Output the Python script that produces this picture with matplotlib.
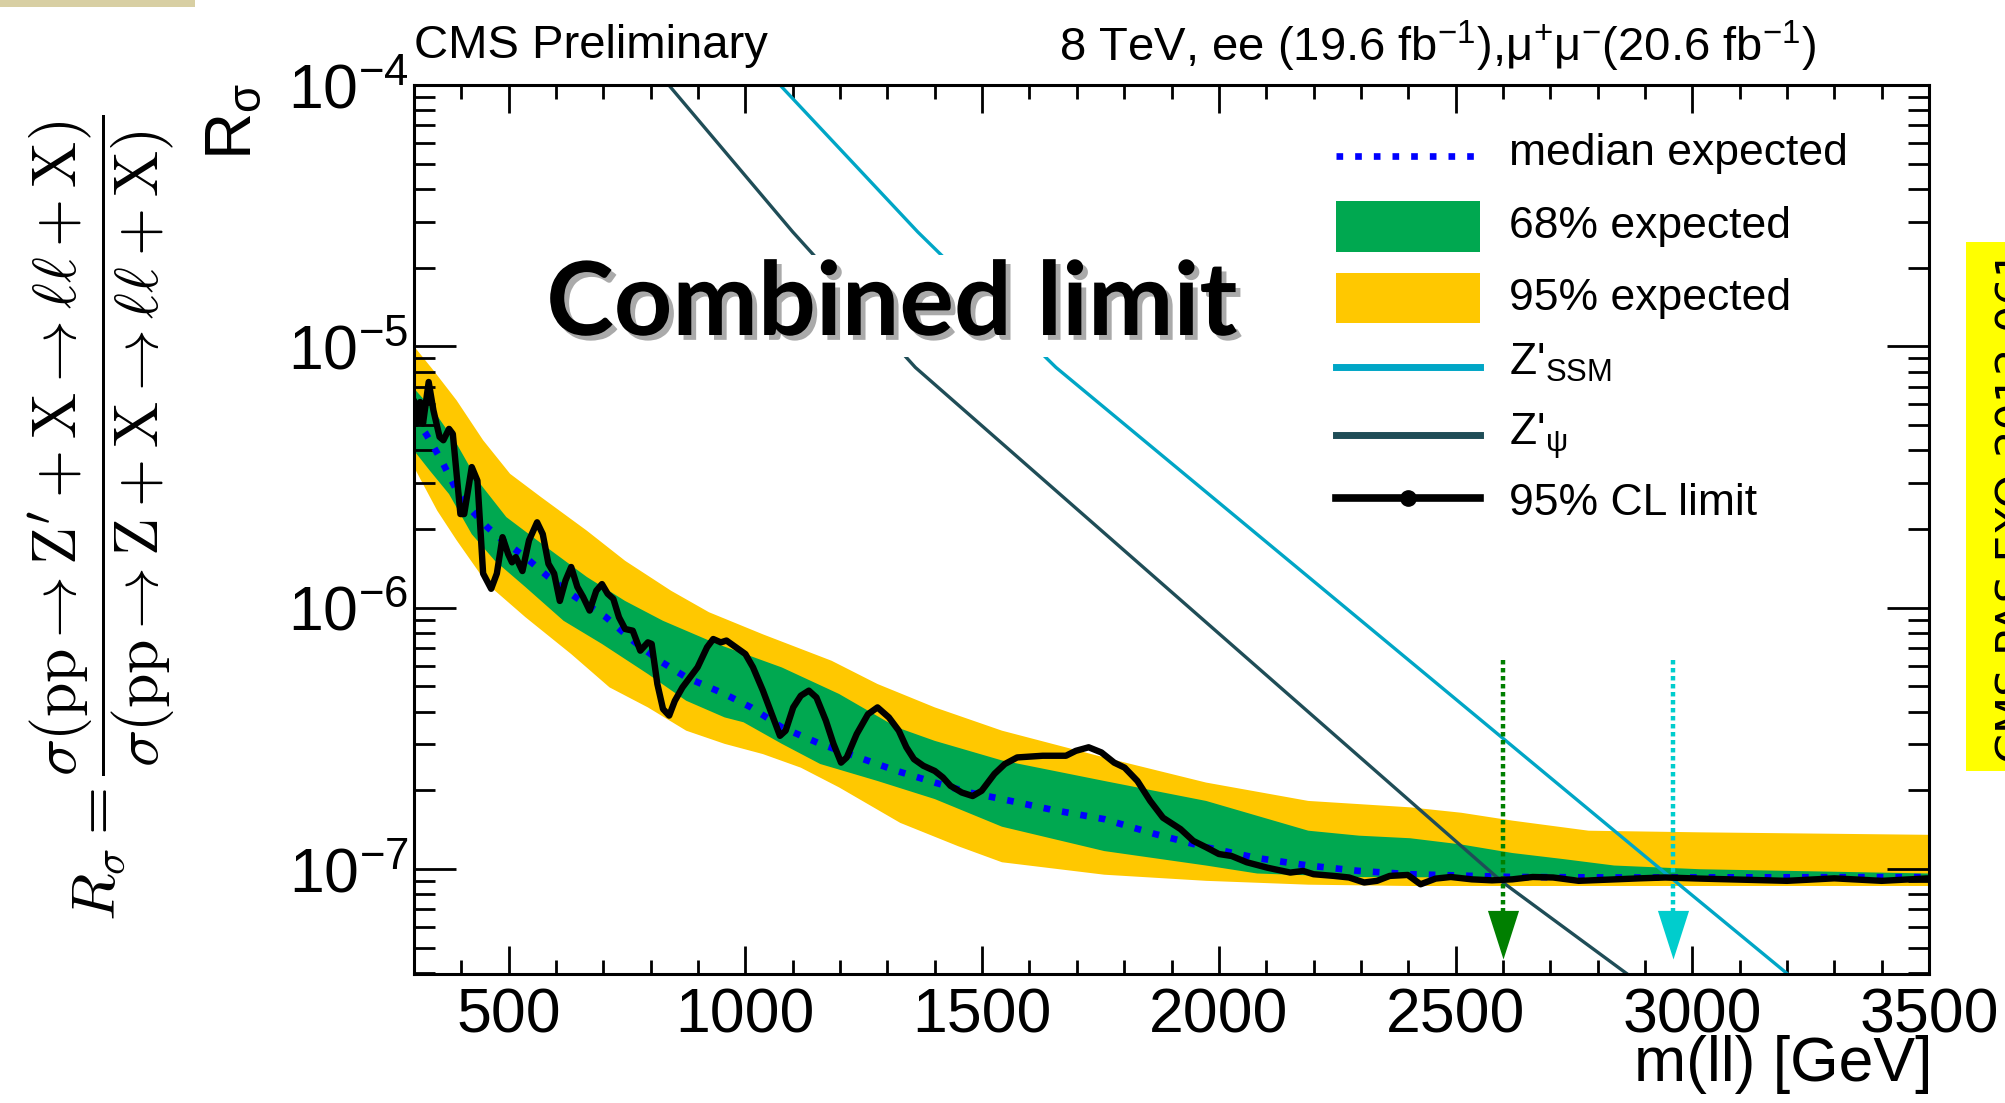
import numpy as np
import matplotlib
matplotlib.use("Agg")
import matplotlib.pyplot as plt
from matplotlib.patches import Rectangle
from matplotlib.lines import Line2D
from matplotlib.path import Path
from matplotlib.ticker import FixedLocator, LogLocator, MultipleLocator, NullFormatter
import matplotlib.patheffects as pe

plt.rcParams['font.family'] = ['Liberation Sans', 'DejaVu Sans']

# ---------------- data ----------------
x_ticks = [500, 1000, 1500, 2000, 2500, 3000, 3500]
x_tick_labels = ['500', '1000', '1500', '2000', '2500', '3000', '3500']
y_ticks = [1e-7, 1e-6, 1e-5, 1e-4]
y_tick_labels = [r'10$^{\mathregular{-7}}$', r'10$^{\mathregular{-6}}$',
                 r'10$^{\mathregular{-5}}$', r'10$^{\mathregular{-4}}$']

# observed 95% CL limit (values in units of 1e-7)
obs_mass = [300, 305, 313, 319, 331, 341, 354, 362, 374, 382, 398, 406, 422, 434, 446,
            463, 475, 487, 499, 507, 515, 529, 543, 560, 572, 584, 596, 608, 620, 632,
            645, 657, 671, 685, 697, 709, 721, 733, 746, 762, 778, 794, 802, 814, 826,
            839, 851, 867, 883, 899, 919, 932, 948, 960, 980, 1000, 1016, 1037, 1053,
            1073, 1085, 1101, 1117, 1134, 1150, 1170, 1186, 1202, 1214, 1235, 1259,
            1279, 1303, 1324, 1340, 1356, 1376, 1400, 1417, 1433, 1457, 1480, 1499,
            1526, 1548, 1574, 1628, 1677, 1698, 1725, 1752, 1779, 1801, 1828, 1855,
            1882, 1919, 1946, 1973, 2000, 2027, 2059, 2103, 2151, 2178, 2200, 2243,
            2275, 2307, 2334, 2361, 2399, 2426, 2458, 2490, 2534, 2577, 2620, 2663,
            2706, 2760, 2835, 2889, 2943, 3016, 3100, 3200, 3300, 3400, 3500]
obs_limit = np.array([62, 50.6, 61.2, 50.6, 73.0, 56.9, 45.0, 43.7, 48.3, 46.2, 22.8, 22.8,
                      34.5, 30.6, 13.5, 11.8, 13.5, 18.6, 16.0, 14.9, 15.6, 13.8, 18.1, 21.2,
                      19.1, 14.7, 13.5, 10.6, 12.7, 14.3, 12.0, 11.0, 9.74, 11.6, 12.3, 11.3,
                      10.8, 9.18, 8.28, 8.16, 6.84, 7.36, 7.26, 5.10, 4.09, 3.86, 4.40, 4.95,
                      5.41, 5.91, 7.05, 7.58, 7.36, 7.48, 7.05, 6.64, 5.91, 4.81, 4.03, 3.23,
                      3.38, 4.15, 4.60, 4.81, 4.53, 3.69, 3.01, 2.55, 2.67, 3.28, 3.91, 4.15,
                      3.80, 3.38, 2.92, 2.63, 2.48, 2.37, 2.24, 2.08, 1.96, 1.90, 1.99, 2.31,
                      2.52, 2.67, 2.71, 2.71, 2.83, 2.92, 2.79, 2.55, 2.44, 2.17, 1.82, 1.57,
                      1.42, 1.28, 1.21, 1.14, 1.12, 1.06, 1.01, 0.968, 0.982, 0.954, 0.940,
                      0.927, 0.887, 0.900, 0.940, 0.948, 0.873, 0.918, 0.931, 0.912, 0.904,
                      0.912, 0.931, 0.927, 0.900, 0.912, 0.920, 0.927, 0.918, 0.91, 0.90,
                      0.92, 0.90, 0.92]) * 1e-7

# median expected
med_mass = [300, 325, 358, 390, 422, 455, 487, 535, 584, 640, 705, 762, 818, 875, 956,
            1012, 1077, 1158, 1239, 1320, 1400, 1473, 1542, 1650, 1758, 1865, 1973, 2081,
            2189, 2296, 2404, 2620, 2835, 3500]
med_val = np.array([53.6, 46.3, 36.6, 28.1, 23.5, 20.3, 18.1, 15.6, 13.1, 11.0, 9.2, 7.48,
                    6.27, 5.41, 4.67, 4.15, 3.48, 3.01, 2.67, 2.37, 2.14, 1.96, 1.85, 1.68,
                    1.55, 1.36, 1.21, 1.10, 1.03, 0.982, 0.954, 0.931, 0.927, 0.93]) * 1e-7

# 95% expected band
b95_up_mass = [300, 341, 390, 446, 503, 568, 665, 746, 843, 923, 1037, 1182, 1279, 1400,
               1542, 1758, 1973, 2189, 2404, 2512, 2620, 2781, 3016, 3500]
b95_up = np.array([100, 80.9, 62.1, 43.7, 32.5, 26.5, 19.7, 15.1, 11.6, 9.6, 7.9, 6.26,
                   5.1, 4.15, 3.38, 2.67, 2.14, 1.82, 1.72, 1.64, 1.53, 1.40, 1.38,
                   1.35]) * 1e-7
b95_lo_mass = [300, 349, 390, 455, 535, 632, 713, 794, 875, 956, 1037, 1117, 1198, 1327,
               1450, 1542, 1758, 1973, 2189, 2404, 3500]
b95_lo = np.array([34.5, 23.5, 18.1, 12.3, 9.2, 6.64, 4.95, 4.15, 3.38, 3.01, 2.75, 2.44,
                   2.05, 1.5, 1.22, 1.06, 0.95, 0.90, 0.87, 0.86, 0.86]) * 1e-7

# 68% expected band
b68_up_mass = [300, 341, 390, 434, 495, 560, 665, 746, 826, 940, 1077, 1198, 1320, 1400,
               1542, 1758, 1973, 2189, 2296, 2404, 2512, 2620, 2728, 2835, 3016, 3500]
b68_up = np.array([69, 56.9, 42.4, 30.7, 22.2, 18.1, 13.1, 10.6, 8.9, 7.26, 5.9, 4.67,
                   3.48, 3.09, 2.60, 2.17, 1.82, 1.40, 1.34, 1.31, 1.24, 1.15, 1.09, 1.03,
                   0.997, 0.96]) * 1e-7
b68_lo_mass = [300, 333, 374, 422, 471, 535, 616, 697, 794, 875, 956, 996, 1077, 1158,
               1279, 1400, 1542, 1758, 1973, 2081, 2300, 3500]
b68_lo = np.array([39.9, 33.5, 27.2, 19.1, 15.1, 12.0, 8.9, 7.26, 5.57, 4.40, 3.80, 3.64,
                   3.01, 2.52, 2.17, 1.85, 1.45, 1.17, 1.03, 0.96, 0.93, 0.92]) * 1e-7

# theory curves
ssm_mass = [1073, 1364, 1656, 2966, 3200]
ssm_val = [1.0e-4, 2.74e-5, 8.3e-6, 8.9e-8, 3.98e-8]
psi_mass = [838, 1100, 1359, 2599, 2861]
psi_val = [1.0e-4, 2.74e-5, 8.3e-6, 8.9e-8, 3.98e-8]

# mass limits (arrows)
limit_mass = [2600, 2960]
arrow_top = 6.3e-7
arrow_base = 6.9e-8
arrow_tip = 4.5e-8

# ---------------- style ----------------
YELLOW = '#FFC800'
GREEN = '#00A850'
BLUE = '#0000FF'
SSM_C = '#00A6C6'
PSI_C = '#1F4D57'
ARROW_C = ['#007F00', '#00CDCD']

W, H, DPI = 2005, 1103, 100
fig = plt.figure(figsize=(W / DPI, H / DPI), dpi=DPI)
fig.patch.set_facecolor('white')
L, R, B, T = 414, 1929, 974, 85
ax = fig.add_axes([L / W, 1 - B / H, (R - L) / W, (B - T) / H])
ax.set_yscale('log')

ax.fill(np.r_[b95_up_mass, b95_lo_mass[::-1]], np.r_[b95_up, b95_lo[::-1]],
        color=YELLOW, lw=0, zorder=1)
ax.fill(np.r_[b68_up_mass, b68_lo_mass[::-1]], np.r_[b68_up, b68_lo[::-1]],
        color=GREEN, lw=0, zorder=1.5)
ax.plot(med_mass, med_val, color=BLUE, lw=4.8, ls=(0, (1.0, 1.8)), zorder=2)
ax.plot(ssm_mass, ssm_val, color=SSM_C, lw=2.4, zorder=3)
ax.plot(psi_mass, psi_val, color=PSI_C, lw=2.4, zorder=3)

tri = Path([(-0.32, 1.0), (0.32, 1.0), (0.0, 0.0), (-0.32, 1.0)],
           [Path.MOVETO, Path.LINETO, Path.LINETO, Path.CLOSEPOLY])
for m, c in zip(limit_mass, ARROW_C):
    ax.plot([m, m], [arrow_top, arrow_base], color=c, lw=3.2, ls=(0, (1.0, 0.8)), zorder=4)
    ax.plot([m], [arrow_tip], marker=tri, ms=70, mfc=c, mec=c, mew=0, ls='none', zorder=4)

ax.plot(obs_mass, obs_limit, color='black', lw=4.6, zorder=5,
        solid_joinstyle='round', solid_capstyle='round')

ax.set_xlim(300, 3500)
ax.set_xticks(x_ticks)
ax.set_xticklabels(x_tick_labels)
ax.xaxis.set_minor_locator(MultipleLocator(100))
ax.yaxis.set_major_locator(FixedLocator(y_ticks))
ax.set_yticklabels(y_tick_labels)
ax.yaxis.set_minor_locator(LogLocator(base=10, subs=np.arange(2, 10)))
ax.yaxis.set_minor_formatter(NullFormatter())
ax.set_ylim(3.96e-8, 1e-4)
ax.tick_params(which='both', direction='in', top=True, right=True, width=2.0, color='black')
ax.tick_params(axis='y', which='major', length=30, pad=4, labelsize=45)
ax.tick_params(axis='y', which='minor', length=15)
ax.tick_params(axis='x', which='major', length=20, pad=9, labelsize=45)
ax.tick_params(axis='x', which='minor', length=10)
for s in ax.spines.values():
    s.set_linewidth(2.2)
    s.set_zorder(10)


def fx(px):
    return px / W


def fy(py):
    return 1 - py / H


# ---------------- legend (manual, ROOT-like) ----------------
hx0, hx1 = 1336, 1480
fig.add_artist(Line2D([fx(hx0), fx(hx1)], [fy(156)] * 2, color=BLUE, lw=4.8,
                      ls=(0, (1.0, 1.8))))
fig.add_artist(Rectangle((fx(hx0), fy(252)), (hx1 - hx0) / W, 51 / H, color=GREEN, lw=0))
fig.add_artist(Rectangle((fx(hx0), fy(323)), (hx1 - hx0) / W, 50 / H, color=YELLOW, lw=0))
fig.add_artist(Line2D([fx(hx0), fx(hx1)], [fy(367)] * 2, color=SSM_C, lw=5))
fig.add_artist(Line2D([fx(hx0), fx(hx1)], [fy(435)] * 2, color=PSI_C, lw=5))
fig.add_artist(Line2D([fx(hx0), fx(hx1)], [fy(498)] * 2, color='black', lw=5.5))
fig.add_artist(Line2D([fx((hx0 + hx1) / 2)], [fy(498)], color='black', marker='o', ms=11,
                      ls='none'))
leg_labels = ['median expected', '68% expected', '95% expected',
              r"Z'$_{\mathregular{SSM}}$", r"Z'$_{\mathregular{ψ}}$", '95% CL limit']
leg_base = [165, 238, 310, 375, 445, 515]
for lab, yb in zip(leg_labels, leg_base):
    fig.text(fx(1509), fy(yb), lab, fontsize=32, va='baseline', ha='left')

# ---------------- texts ----------------
fig.text(fx(414), fy(46), 'CMS Preliminary', fontsize=34, ha='left', va='center')
fig.text(fx(1816), fy(46),
         r'8 TeV, ee (19.6 fb$^{\mathregular{-1}}$),μ$^{\mathregular{+}}$μ$^{\mathregular{-}}$(20.6 fb$^{\mathregular{-1}}$)',
         fontsize=34, ha='right', va='center')
fig.text(fx(1933), fy(1064), 'm(ll) [GeV]', fontsize=45, ha='right', va='center')
fig.text(fx(234), fy(83), r'R$_{\mathregular{σ}}$', fontsize=47, rotation=90,
         ha='center', va='top')

renderer = fig.canvas.get_renderer()


def fit(txt, target, dim='width'):
    for _ in range(4):
        bb = txt.get_window_extent(renderer=renderer)
        cur = bb.width if dim == 'width' else bb.height
        txt.set_fontsize(txt.get_fontsize() * target / cur)


comb = fig.text(fx(892), fy(306), 'Combined limit', fontsize=70, fontweight='bold',
                family=['Lato', 'Open Sans', 'DejaVu Sans'], ha='center', va='center', zorder=20,
                path_effects=[pe.SimplePatchShadow(offset=(3.5, -3.5), shadow_rgbFace='#aaaaaa',
                                                   alpha=1.0), pe.Normal()])
fit(comb, 691)
comb.set_bbox(dict(boxstyle='square,pad=0.05', facecolor='white', edgecolor='none'))

formula = fig.text(fx(102), fy(518),
                   r'$R_\sigma = \dfrac{\sigma(\mathrm{pp}\rightarrow \mathrm{Z}^{\prime}+\mathrm{X}\rightarrow \ell\ell+\mathrm{X})}{\sigma(\mathrm{pp}\rightarrow \mathrm{Z}+\mathrm{X}\rightarrow \ell\ell+\mathrm{X})}$',
                   fontsize=30, rotation=90, ha='center', va='center', math_fontfamily='cm')
fit(formula, 806, dim='height')

# right-hand yellow document tag
fig.add_artist(Rectangle((fx(1966), fy(771)), (W - 1966) / W, (771 - 242) / H,
                         color='#FFFF00', lw=0))
fig.text(fx(1995), fy(506), 'CMS PAS EXO-2012-061', fontsize=31, rotation=90,
         family=['DejaVu Sans'], ha='left', va='center')

# small decoration strip at top-left
fig.add_artist(Rectangle((0, fy(7)), 195 / W, 7 / H, color='#d8cfa3', lw=0))

fig.savefig('out.png', dpi=DPI)
